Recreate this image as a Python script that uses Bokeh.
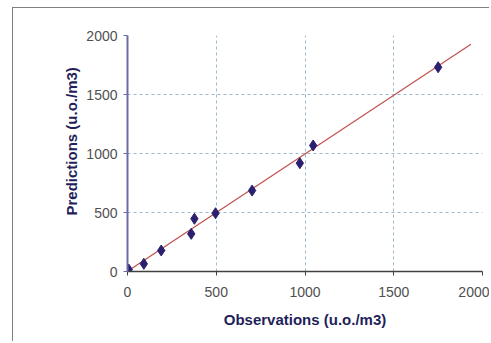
from bokeh.plotting import figure
from bokeh.embed import file_html
from bokeh.resources import INLINE
from bokeh.models import Range1d, FixedTicker, Title

# Data
observations = [7, 92, 190, 359, 377, 496, 702, 971, 1046, 1750]
predictions = [17, 65, 178, 319, 447, 494, 686, 918, 1068, 1731]
fit_x = [0, 1935]
fit_y = [2, 1925]
ticks = [0, 500, 1000, 1500, 2000]
x_title = "Observations (u.o./m3)"
y_title = "Predictions (u.o./m3)"

p = figure(width=477, height=334, output_backend="svg", toolbar_location=None,
           x_range=Range1d(0, 2000), y_range=Range1d(0, 2000),
           min_border_left=114, min_border_right=8, min_border_top=27, min_border_bottom=71)
p.margin = (7, 0, 0, 12)
p.styles = {"border-left": "1px solid #808080", "border-top": "1px solid #808080"}

p.background_fill_color = "white"
p.border_fill_color = "white"
p.outline_line_color = None

for ax in (p.xaxis, p.yaxis):
    ax.ticker = FixedTicker(ticks=ticks)
    ax.minor_tick_line_color = None
    ax.major_tick_out = 4
    ax.major_tick_in = 0
    ax.major_label_text_font = "Liberation Sans"
    ax.major_label_text_font_size = "14px"
    ax.major_label_text_color = "#505050"
    ax.axis_label_text_font = "Liberation Sans"
    ax.axis_label_text_font_size = "15px"
    ax.axis_label_text_font_style = "bold"
    ax.axis_label_text_color = "#1f1f5a"

p.xaxis.axis_label = x_title
p.xaxis.axis_line_color = "#404040"
p.xaxis.major_tick_line_color = "#404040"
p.yaxis.axis_line_color = "#6a6aa8"
p.yaxis.major_tick_line_color = "#6a6aa8"
p.yaxis.axis_line_width = 2
p.xaxis.axis_line_width = 1.5
p.xaxis.major_label_standoff = 11
p.xaxis.axis_label_standoff = 11
p.yaxis.major_label_standoff = 6

ytitle = Title(text=y_title, align="left", offset=56, standoff=8,
               text_font="Liberation Sans", text_font_size="15px",
               text_font_style="bold", text_color="#1f1f5a")
p.add_layout(ytitle, "left")

for g in (p.xgrid, p.ygrid):
    g.grid_line_color = "#9cb8cc"
    g.grid_line_dash = "3 3"
    g.grid_line_width = 1

p.line(fit_x, fit_y, line_color="#c0504d", line_width=1.2)
p.scatter(observations, predictions, marker="diamond", size=11,
          fill_color="#2b2070", line_color="#2b2070")

open("out.html", "w").write(file_html(p, INLINE))
